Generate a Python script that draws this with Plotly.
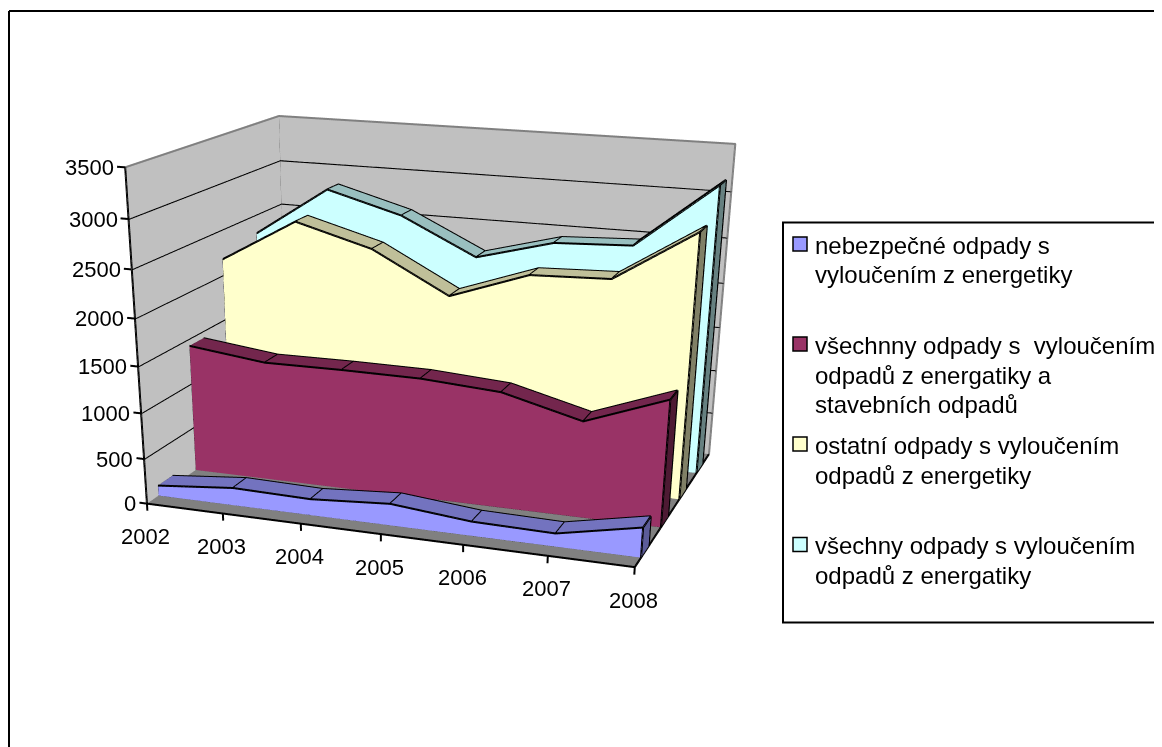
import numpy as np
import plotly.graph_objects as go

years = [2002, 2003, 2004, 2005, 2006, 2007, 2008]
z_ticks = [0, 500, 1000, 1500, 2000, 2500, 3000, 3500]
hazardous = [115, 195, 179, 238, 156, 142, 321]
all_no_constr = [1423, 1322, 1329, 1324, 1268, 1050, 1374]
other = [2177, 2656, 2428, 1992, 2291, 2322, 2873]
all_waste = [2289, 2845, 2618, 2222, 2448, 2487, 3186]

series_names = ["nebezpečné odpady s vyloučením z energetiky",
                "všechnny odpady s vyloučením odpadů z energatiky a stavebních odpadů",
                "ostatní odpady s vyloučením odpadů z energetiky",
                "všechny odpady s vyloučením odpadů z energatiky"]
series_vals = [hazardous, all_no_constr, other, all_waste]
depths = [(.072, .163), (.315, .408), (.559, .652), (.806, .896)]
front_c = ["#9999FF", "#993366", "#FFFFCC", "#CCFFFF"]
top_c = ["#7373BF", "#73264D", "#BFBF99", "#99BFBF"]
end_c = ["#5C5C99", "#4D1A33", "#808066", "#668080"]

legend_lines = [["nebezpečné odpady s", "vyloučením z energetiky"],
                ["všechnny odpady s  vyloučením", "odpadů z energatiky a", "stavebních odpadů"],
                ["ostatní odpady s vyloučením", "odpadů z energetiky"],
                ["všechny odpady s vyloučením", "odpadů z energatiky"]]

OFF = 8  # page margin of the browser
W, H = 1162, 1500
FONT = "Liberation Sans"
# camera
yaw, pitch, roll = -0.3224, -0.4748, 0.012
fw = np.array([np.sin(yaw)*np.cos(pitch), np.cos(yaw)*np.cos(pitch), np.sin(pitch)])
E = np.array([1.1278, -3.4216, 0.8846])
AY, AZ = 0.7199, 0.6501
rt = np.cross(fw, [0, 0, 1.0]); rt /= np.linalg.norm(rt)
tu = np.cross(rt, fw)
up = -np.sin(roll)*rt + np.cos(roll)*tu
C = E + fw*np.linalg.norm(E)

PAD = 0.05
x0, x1 = years[0], years[-1]
zmax = z_ticks[-1]
LIGHT = dict(ambient=1, diffuse=0, specular=0, roughness=1, fresnel=0)

def quad_mesh(xs, ys, zs, color, name=None):
    """strip mesh from pairs of vertices (lower_k, upper_k)"""
    n = len(xs)//2
    i, j, k = [], [], []
    for a in range(n-1):
        p = 2*a
        i += [p, p+1]; j += [p+2, p+2]; k += [p+1, p+3]
    return go.Mesh3d(x=xs, y=ys, z=zs, i=i, j=j, k=k, color=color, opacity=1, flatshading=True,
                     lighting=LIGHT, hoverinfo="skip", showlegend=False, name=name)

def segs(items, color="black", width=4):
    xs, ys, zs = [], [], []
    for poly in items:
        for p in poly:
            xs.append(p[0]); ys.append(p[1]); zs.append(p[2])
        xs.append(None); ys.append(None); zs.append(None)
    return go.Scatter3d(x=xs, y=ys, z=zs, mode="lines", line=dict(color=color, width=width),
                        hoverinfo="skip", showlegend=False)

traces = []
# walls and floor
traces.append(quad_mesh([x0, x0, x1, x1], [1, 1, 1, 1], [0, zmax, 0, zmax], "#C0C0C0"))
traces.append(quad_mesh([x0, x0, x0, x0], [0, 0, 1, 1], [0, zmax, 0, zmax], "#C0C0C0"))
traces.append(quad_mesh([x0, x0, x1, x1], [0, 1, 0, 1], [0, 0, 0, 0], "#808080"))
traces.append(segs([[(x0, 0, zmax), (x0, 1, zmax), (x1, 1, zmax), (x1, 1, 0)], [(x0, 1, zmax), (x0, 1, 0)]], "#808080", 4))
traces.append(segs([[(x0, 0, v), (x0, 1, v), (x1, 1, v)] for v in z_ticks[1:-1]]))
traces.append(segs([[(x0, 0, 0), (x0, 0, zmax)],
                    [(x0, 0, 0), (x1, 0, 0), (x1, 1, 0)]]))
traces.append(segs([[(x0-0.1, 0, v), (x0, 0, v)] for v in z_ticks] +
                   [[(x, 0, 0), (x, 0, -80)] for x in years]))

for vals, (sf, sb), fc, tc, ec, nm in zip(series_vals, depths, front_c, top_c, end_c, series_names):
    xs, ys, zs = [], [], []
    for x, v in zip(years, vals):
        xs += [x, x]; ys += [sf, sf]; zs += [0, v]
    traces.append(quad_mesh(xs, ys, zs, fc, nm))
    xs, ys, zs = [], [], []
    for x, v in zip(years, vals):
        xs += [x, x]; ys += [sf, sb]; zs += [v, v]
    traces.append(quad_mesh(xs, ys, zs, tc))
    traces.append(quad_mesh([x1]*4, [sf, sf, sb, sb], [0, vals[-1], 0, vals[-1]], ec))
    lines = [[(years[0], sf, 0)] + [(x, sf, v) for x, v in zip(years, vals)] + [(x1, sf, 0), (years[0], sf, 0)],
             [(x, sb, v) for x, v in zip(years, vals)],
             [(x1, sb, vals[-1]), (x1, sb, 0), (x1, sf, 0)]]
    lines += [[(x, sf, v), (x, sb, v)] for x, v in zip(years, vals)]
    traces.append(segs(lines))

fig = go.Figure(traces)

sc_ann = [dict(x=x0, y=0, z=v, text=str(v), showarrow=False, xanchor="right", yanchor="middle", xshift=-9,
               font=dict(family=FONT, size=22, color="black")) for v in z_ticks]
sc_ann += [dict(x=x, y=0, z=0, text=str(x), showarrow=False, xanchor="center", yanchor="middle", yshift=-33, xshift=-1,
                font=dict(family=FONT, size=22, color="black")) for x in years]

def py(y):
    return 1 - (y-OFF)/H
def px(x):
    return (x-OFF)/W

shapes = [dict(type="line", xref="paper", yref="paper", x0=px(9), x1=px(1170), y0=py(11), y1=py(11), line=dict(color="black", width=2)),
          dict(type="line", xref="paper", yref="paper", x0=px(9), x1=px(9), y0=py(11), y1=py(760), line=dict(color="black", width=2)),
          dict(type="rect", xref="paper", yref="paper", x0=px(783), x1=px(1175), y0=py(222.5), y1=py(622.5), line=dict(color="black", width=2))]
ann = []
sq_top = [237, 337, 437, 537.5]
for top, lines_, col in zip(sq_top, legend_lines, front_c):
    shapes.append(dict(type="rect", xref="paper", yref="paper", x0=px(793), x1=px(807), y0=py(top), y1=py(top+14),
                       fillcolor=col, line=dict(color="black", width=1.5)))
    for n, t in enumerate(lines_):
        ann.append(dict(xref="paper", yref="paper", x=px(813), y=py(top+8+n*30), text=t, showarrow=False,
                        xanchor="left", yanchor="middle", font=dict(family=FONT, size=24, color="black")))

fig.update_layout(width=W, height=H, margin=dict(l=0, r=0, t=0, b=0, pad=0), paper_bgcolor="white",
                  showlegend=False, shapes=shapes, annotations=ann, dragmode=False,
                  scene=dict(domain=dict(x=[0, (860-2*OFF)/W], y=[2*OFF/H, 1]), bgcolor="rgba(0,0,0,0)", dragmode="orbit",
                             aspectmode="manual",
                             aspectratio=dict(x=1+2*PAD, y=AY*(1+2*PAD), z=AZ*(1+2*PAD)),
                             xaxis=dict(visible=False, range=[x0-6*PAD, x1+6*PAD]),
                             yaxis=dict(visible=False, range=[-PAD, 1+PAD]),
                             zaxis=dict(visible=False, range=[-zmax*PAD, zmax*(1+PAD)]),
                             camera=dict(eye=dict(x=E[0], y=E[1], z=E[2]), center=dict(x=C[0], y=C[1], z=C[2]),
                                         up=dict(x=up[0], y=up[1], z=up[2]), projection=dict(type="perspective")),
                             annotations=sc_ann))
fig.write_html("out.html")
